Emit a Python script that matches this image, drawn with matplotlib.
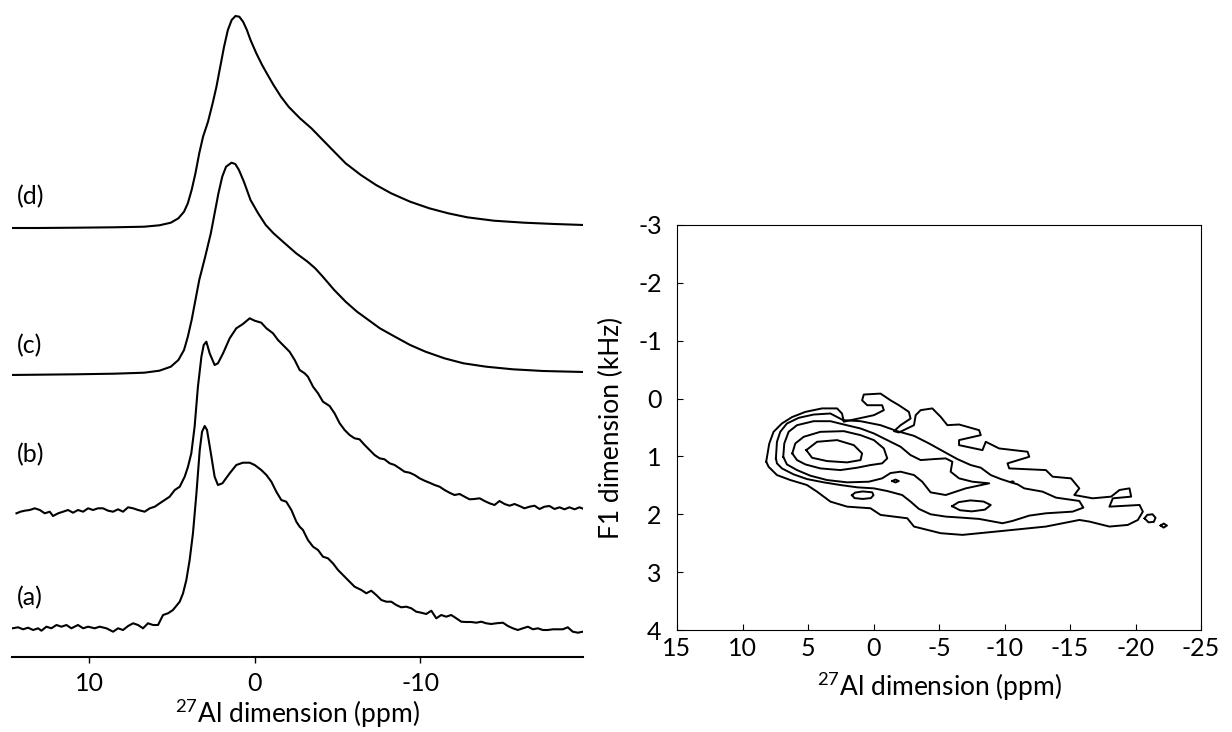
import matplotlib
matplotlib.use('Agg')
import matplotlib.pyplot as plt

plt.rcParams['font.family'] = ['Lato', 'DejaVu Sans']
plt.rcParams['mathtext.fontset'] = 'custom'
plt.rcParams['mathtext.rm'] = 'Lato'
plt.rcParams['axes.unicode_minus'] = False

# --- 1D spectra (ppm, intensity a.u. above own baseline) ---
spec_labels = ['(a)', '(b)', '(c)', '(d)']
spec_offsets = [29, 145, 282, 429]
label_y = [59, 202, 311, 460]

ppm_a = [14.64, 14.30, 14.00, 13.70, 13.39, 13.09, 12.89, 12.59, 12.29, 11.98, 11.68, 11.38,
         11.08, 10.68, 10.37, 10.07, 9.67, 9.37, 8.96, 8.56, 8.26, 7.96, 7.65, 7.35, 7.05,
         6.75, 6.45, 6.14, 5.84, 5.54, 5.24, 4.94, 4.53, 4.33, 4.13, 3.93, 3.73, 3.52, 3.32,
         3.18, 3.02, 2.88, 2.68, 2.42, 2.22, 1.95, 1.51, 1.11, 0.71, 0.30, 0.0, -0.40, -0.71,
         -1.01, -1.31, -1.61, -1.91, -2.22, -2.52, -2.72, -2.92, -3.22, -3.53, -3.83, -4.13,
         -4.43, -4.73, -5.04, -5.44, -5.74, -6.04, -6.45, -6.75, -7.05, -7.35, -7.66, -7.96,
         -8.26, -8.56, -8.86, -9.17, -9.47, -9.77, -10.07, -10.37, -10.68, -10.98, -11.28,
         -11.58, -11.88, -12.19, -12.49, -12.79, -13.09, -13.40, -13.70, -14.00, -14.30,
         -14.60, -15.01, -15.31, -15.61, -15.91, -16.21, -16.52, -16.82, -17.12, -17.42,
         -17.72, -18.03, -18.33, -18.63, -18.93, -19.23, -19.54, -19.84]
int_a = [-0.3, 0.7, -1.3, 0.3, -2, -0.3, -2.7, 1.3, -0.3, 3, 1.3, 3, -0.3, 3, -0.3, 1.3,
         -0.3, 1.3, -0.3, -3.7, -0.3, -2, 2, 4.7, 3, -0.3, 4.7, 3, 3, 13, 14.7, 18, 26.3,
         34.7, 48, 68, 94.7, 134.7, 178, 196.3, 202, 198, 178, 151.3, 143, 144.7, 154.7, 163,
         165.3, 165.3, 163, 158, 153, 146.3, 136.3, 128, 126.3, 118, 106.3, 101.3, 98, 88,
         81.3, 78, 71.3, 69.7, 64.7, 58, 51.3, 46.3, 41.3, 38, 34.7, 37.3, 33, 28, 26.3, 26.3,
         23, 20.7, 21.3, 19.7, 16.3, 15.3, 14, 17.3, 9.7, 13, 11.3, 13, 9.7, 6.3, 6, 6, 5.3,
         6.3, 4.7, 4, 4.7, 5.3, 2, -0.3, -2, -0.3, 1.3, -1.3, -0.3, -2, -2, -1.3, -1.3, -1.3,
         0.7, -3.7, -4.7, -3.7]

ppm_b = [14.40, 14.16, 13.90, 13.60, 13.29, 12.99, 12.69, 12.39, 12.19, 11.88, 11.58, 11.28,
         10.98, 10.68, 10.37, 10.07, 9.77, 9.47, 9.17, 8.86, 8.56, 8.26, 7.96, 7.65, 7.35,
         7.05, 6.65, 6.34, 6.04, 5.74, 5.44, 5.14, 4.83, 4.53, 4.23, 4.03, 3.83, 3.63, 3.43,
         3.22, 3.08, 2.92, 2.72, 2.42, 2.22, 1.91, 1.51, 1.11, 0.71, 0.30, 0.0, -0.40, -0.71,
         -1.11, -1.41, -1.71, -2.11, -2.42, -2.72, -3.02, -3.22, -3.53, -3.83, -4.13, -4.53,
         -4.83, -5.14, -5.44, -5.74, -6.04, -6.34, -6.65, -6.95, -7.25, -7.55, -7.85, -8.16,
         -8.46, -8.76, -9.06, -9.37, -9.67, -9.97, -10.27, -10.57, -10.88, -11.18, -11.48,
         -11.78, -12.08, -12.39, -12.69, -12.99, -13.29, -13.60, -13.90, -14.20, -14.50,
         -14.80, -15.11, -15.41, -15.71, -16.01, -16.31, -16.62, -16.92, -17.22, -17.52,
         -17.82, -18.13, -18.43, -18.73, -19.03, -19.34, -19.64, -19.94, -20.14]
int_b = [-1.3, 0.3, 1.3, 2, 3.7, 2, -1.3, 0.3, -4, -1.3, 0.3, 2, -0.7, 2, 0.3, 3.7, 2, 3.7,
         3.7, 1.3, 0.3, 2.7, 0.3, 4.7, 3.7, 2, 0.3, 3.7, 5.3, 8.7, 12, 15.3, 22, 25.3, 35.3,
         45.3, 58.7, 85.3, 125.3, 155.3, 167, 170.3, 158.7, 147, 148.7, 158.7, 173.7, 183.7,
         188, 193.7, 191.3, 189.3, 183.7, 178.7, 172, 167, 160.3, 152, 142, 138.7, 135.3,
         125.3, 118.7, 110.3, 106, 98.7, 88.7, 82, 77, 73.7, 72.7, 67, 62, 57, 53.7, 52.7,
         48.7, 47, 43.7, 40.3, 39.3, 37, 33.7, 31.3, 29.3, 27, 25.3, 22, 19.3, 17, 18, 15.3,
         12.7, 13, 13.7, 11, 8.7, 7, 11, 8, 6.3, 8, 6, 3.7, 5.3, 6.3, 3, 5.3, 6, 3, 4.7, 2.7,
         4.7, 2.7, 4.7, 2.7, 0.3]

ppm_c = [14.83, 13.11, 10.82, 8.51, 6.68, 5.76, 5.07, 4.61, 4.27, 4.04, 3.81, 3.58, 3.35,
         2.99, 2.65, 2.42, 2.19, 1.96, 1.73, 1.40, 1.17, 0.95, 0.65, 0.25, -0.21, -0.67,
         -1.14, -1.82, -2.51, -3.20, -3.66, -4.12, -4.81, -5.50, -6.19, -6.88, -7.57, -8.48,
         -9.40, -10.33, -11.47, -12.62, -14.00, -15.61, -17.44, -19.90]
int_c = [0, 0.3, 0.7, 1.3, 2.3, 4.3, 8.3, 15, 25, 38.3, 55, 75, 95, 118.3, 141.7, 161.7,
         181.7, 198.3, 208.3, 212.3, 211, 205, 193.3, 175, 161.7, 150, 141.7, 131.7, 121.7,
         113.3, 106.7, 98.3, 85, 73.3, 63.3, 55, 46.7, 38.3, 30, 23.3, 16.7, 11.7, 8.3, 5.7,
         4, 3]

ppm_d = [14.83, 13.11, 10.82, 8.51, 6.68, 5.76, 5.07, 4.61, 4.27, 4.04, 3.81, 3.58, 3.35,
         3.12, 2.82, 2.54, 2.31, 2.08, 1.85, 1.62, 1.39, 1.16, 0.93, 0.70, 0.47, 0.25, -0.10,
         -0.45, -0.79, -1.14, -1.59, -2.05, -2.74, -3.43, -4.12, -4.81, -5.50, -6.42, -7.34,
         -8.25, -9.40, -10.56, -11.70, -12.85, -14.46, -16.30, -18.13, -19.90]
int_d = [0, 0, 0.3, 0.7, 1.3, 2.7, 5.3, 9.7, 16.3, 24.7, 38, 54.7, 74.7, 91.3, 106.3, 124.7,
         141.3, 161.3, 181.3, 198, 208, 212, 211.3, 206.3, 198, 188, 174.7, 163, 153, 143,
         131.3, 121.3, 109.7, 99.7, 88, 76.3, 64.7, 53, 43, 34.7, 26.3, 19.7, 14.7, 10.7, 7.3,
         5.3, 4, 3]

spec_ppm = [ppm_a, ppm_b, ppm_c, ppm_d]
spec_int = [int_a, int_b, int_c, int_d]

# --- 2D contour lines (27Al ppm, F1 kHz), closed loops ---
contour_1 = [(8.19, 1.09), (7.96, 0.78), (7.63, 0.575), (6.99, 0.43), (6.22, 0.32), (5.20, 0.23),
             (3.93, 0.17), (2.78, 0.17), (2.40, 0.26), (2.27, 0.40), (1.38, 0.356), (-0.03, 0.287),
             (-0.79, 0.20), (-0.66, 0.115), (0.48, 0.115), (0.87, 0.03), (0.74, -0.07), (-0.54, -0.086),
             (-1.30, 0.03), (-1.94, 0.115), (-2.70, 0.23), (-2.83, 0.345), (-2.07, 0.46), (-1.56, 0.563),
             (-1.94, 0.586), (-3.09, 0.46), (-3.22, 0.287), (-3.60, 0.20), (-4.49, 0.17), (-5.13, 0.316),
             (-5.64, 0.46), (-6.53, 0.448), (-8.06, 0.546), (-8.19, 0.632), (-6.53, 0.718), (-6.53, 0.805),
             (-8.32, 0.891), (-8.57, 0.747), (-9.59, 0.862), (-11.76, 0.919), (-11.89, 1.006), (-10.23, 1.12),
             (-10.36, 1.207), (-13.16, 1.236), (-13.67, 1.35), (-15.08, 1.379), (-15.71, 1.552),
             (-15.33, 1.667), (-16.73, 1.724), (-18.14, 1.695), (-18.78, 1.58), (-19.54, 1.552),
             (-19.67, 1.695), (-18.27, 1.724), (-18.01, 1.868), (-20.31, 1.839), (-20.56, 1.954),
             (-20.18, 2.098), (-19.41, 2.184), (-18.01, 2.212), (-16.48, 2.126), (-15.71, 2.098),
             (-14.44, 2.155), (-13.16, 2.212), (-11.89, 2.241), (-9.34, 2.299), (-6.79, 2.356),
             (-5.13, 2.327), (-3.09, 2.212), (-2.58, 2.069), (-0.54, 2.011), (0.23, 1.896), (2.01, 1.868),
             (3.29, 1.781), (4.31, 1.609), (5.08, 1.494), (6.35, 1.408), (7.37, 1.322), (8.01, 1.178)]

contour_2 = [(7.45, 1.034), (7.37, 0.747), (7.12, 0.575), (6.61, 0.431), (5.71, 0.333), (4.57, 0.276),
             (3.29, 0.258), (2.32, 0.373), (0.99, 0.391), (-0.54, 0.46), (-1.81, 0.563), (-3.09, 0.644),
             (-4.24, 0.776), (-5.38, 0.919), (-6.40, 1.046), (-7.42, 1.149), (-8.19, 1.195), (-8.95, 1.322),
             (-9.72, 1.391), (-10.49, 1.448), (-11.00, 1.483), (-11.51, 1.552), (-12.91, 1.609),
             (-13.93, 1.712), (-15.71, 1.77), (-16.02, 1.885), (-15.20, 1.954), (-13.16, 1.983),
             (-11.89, 2.023), (-10.61, 2.115), (-9.85, 2.155), (-8.06, 2.08), (-6.66, 2.057),
             (-5.51, 2.04), (-4.36, 2.0), (-3.47, 1.908), (-2.83, 1.781), (-2.19, 1.667), (-1.05, 1.598),
             (-0.03, 1.552), (1.25, 1.534), (2.53, 1.494), (3.80, 1.448), (5.08, 1.391), (6.10, 1.31),
             (6.99, 1.207), (7.37, 1.12)]

contour_3 = [(6.89, 1.006), (6.81, 0.776), (6.48, 0.575), (5.84, 0.46), (4.57, 0.391), (3.29, 0.391),
             (2.27, 0.448), (0.99, 0.517), (-0.03, 0.603), (-1.05, 0.718), (-2.07, 0.833), (-2.83, 0.977),
             (-3.60, 1.063), (-4.62, 1.046), (-5.51, 1.034), (-6.02, 1.092), (-5.89, 1.264), (-6.53, 1.379),
             (-7.55, 1.437), (-8.83, 1.465), (-7.04, 1.552), (-5.51, 1.667), (-4.36, 1.621), (-3.72, 1.437),
             (-3.09, 1.322), (-2.07, 1.264), (-1.30, 1.287), (-0.66, 1.379), (0.36, 1.437), (2.01, 1.448),
             (3.55, 1.408), (4.82, 1.333), (5.84, 1.236), (6.61, 1.138)]

contour_4 = [(6.20, 0.948), (5.97, 0.776), (5.33, 0.661), (4.06, 0.575), (2.27, 0.563), (0.99, 0.632),
             (-0.03, 0.718), (-0.79, 0.862), (-1.05, 1.034), (-0.66, 1.12), (0.23, 1.149), (1.25, 1.195),
             (2.53, 1.236), (4.06, 1.207), (5.20, 1.138), (5.84, 1.063)]

contour_5 = [(5.13, 0.891), (4.31, 0.747), (2.78, 0.718), (1.50, 0.805), (0.87, 0.948), (0.99, 1.063),
             (2.01, 1.103), (3.55, 1.08), (4.69, 1.023)]

island_1 = [(1.64, 1.67), (1.40, 1.625), (0.82, 1.605), (0.10, 1.62), (0.0, 1.67), (0.20, 1.72),
            (0.82, 1.735), (1.45, 1.72)]
island_2 = [(-6.0, 1.86), (-6.5, 1.79), (-7.4, 1.76), (-8.4, 1.78), (-8.95, 1.84), (-8.5, 1.92),
            (-7.5, 1.95), (-6.6, 1.93)]
island_3 = [(-1.43, 1.425), (-1.68, 1.40), (-1.93, 1.425), (-1.68, 1.45)]
island_4 = [(-20.69, 2.07), (-20.9, 2.01), (-21.3, 2.0), (-21.53, 2.06), (-21.4, 2.13), (-21.0, 2.14)]
island_5 = [(-21.92, 2.195), (-22.15, 2.16), (-22.4, 2.195), (-22.15, 2.23)]
island_6 = [(-10.52, 1.44), (-10.62, 1.43), (-10.70, 1.44), (-10.62, 1.45)]

contours = [contour_1, contour_2, contour_3, contour_4, contour_5,
            island_1, island_2, island_3, island_4, island_5, island_6]

fig = plt.figure(figsize=(12.32, 7.32), dpi=100)

# left: stacked spectra
ax1 = fig.add_axes([12 / 1232, 75 / 732, 571 / 1232, 657 / 732])
for lab, ppm, inten, off, ly in zip(spec_labels, spec_ppm, spec_int, spec_offsets, label_y):
    ax1.plot(ppm, [off + v for v in inten], color='black', lw=1.5)
    ax1.text(14.4, ly, lab, fontsize=18, ha='left', va='center')
ax1.set_xlim(14.67, -19.85)
ax1.set_ylim(0, 657)
for s in ['top', 'left', 'right']:
    ax1.spines[s].set_visible(False)
ax1.spines['bottom'].set_linewidth(1.5)
ax1.set_yticks([])
ax1.set_xticks([10, 0, -10])
ax1.tick_params(axis='x', direction='out', length=4, width=1, labelsize=18, pad=7)
ax1.set_xlabel(r'$^{27}$Al dimension (ppm)', fontsize=19, labelpad=1)

# right: 2D contour plot
ax2 = fig.add_axes([677 / 1232, 102 / 732, 524 / 1232, 405 / 732])
for c in contours:
    xs = [p[0] for p in c] + [c[0][0]]
    ys = [p[1] for p in c] + [c[0][1]]
    ax2.plot(xs, ys, color='black', lw=1.4)
ax2.set_xlim(15, -25)
ax2.set_ylim(4, -3)
ax2.set_xticks([15, 10, 5, 0, -5, -10, -15, -20, -25])
ax2.set_yticks([-3, -2, -1, 0, 1, 2, 3, 4])
ax2.tick_params(direction='in', length=4, width=0.8, labelsize=18)
ax2.tick_params(axis='x', pad=5)
ax2.tick_params(axis='y', pad=11)
for s in ax2.spines.values():
    s.set_linewidth(0.8)
ax2.set_xlabel(r'$^{27}$Al dimension (ppm)', fontsize=19, labelpad=7)
ax2.set_ylabel('F1 dimension (kHz)', fontsize=19, labelpad=10)

fig.savefig('out.png', dpi=100)
